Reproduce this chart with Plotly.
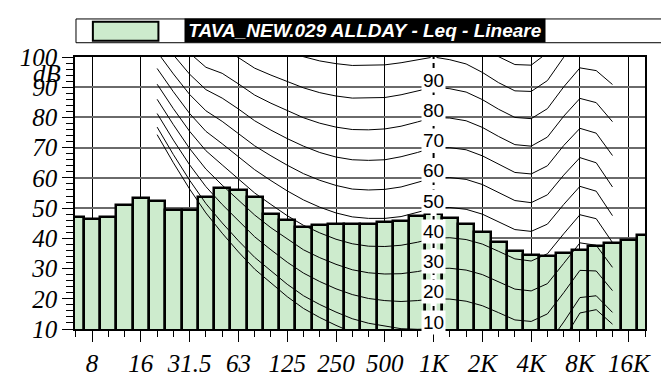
import plotly.graph_objects as go

# ---- data -------------------------------------------------------------
band_labels = ["6.3", "8", "10", "12.5", "16", "20", "25", "31.5", "40", "50", "63", "80",
               "100", "125", "160", "200", "250", "315", "400", "500", "630", "800",
               "1K", "1.25K", "1.6K", "2K", "2.5K", "3.15K", "4K", "5K", "6.3K", "8K",
               "10K", "12.5K", "16K", "20K"]
leq_values = [46.9, 46.5, 47.0, 50.9, 53.5, 52.2, 49.3, 49.4, 53.8, 56.8, 55.9, 53.8,
              48.0, 46.2, 43.6, 44.3, 44.7, 44.6, 44.7, 45.4, 45.8, 47.4,
              48.1, 46.8, 44.9, 42.1, 38.9, 35.8, 34.5, 34.3, 35.1, 36.2,
              37.5, 38.4, 39.5, 41.2]

octave_ticks = ["8", "16", "31.5", "63", "125", "250", "500", "1K", "2K", "4K", "8K", "16K"]
y_ticks = [10, 20, 30, 40, 50, 60, 70, 80, 90, 100]

# isophon curves, 20 Hz ... 12.5 kHz (third-octave bands)
iso_bands = band_labels[5:34]
maf = [74.3, 65.0, 56.3, 48.4, 41.7, 35.5, 29.8, 25.1, 20.7, 16.8, 13.8, 11.2, 8.9, 7.2, 6.0,
       5.0, 4.4, 4.2, 3.7, 2.6, 1.0, -1.2, -3.6, -3.9, -1.1, 6.6, 15.3, 16.4, 11.6]
phon10 = [76.8, 67.7, 59.2, 51.5, 45.1, 39.2, 33.7, 29.1, 24.8, 21.0, 18.1, 15.6, 13.4, 11.9, 10.9,
          10.1, 9.9, 10.0, 9.7, 8.7, 7.2, 5.0, 2.6, 2.2, 4.8, 12.3, 20.4, 21.0, 15.5]
phon20 = [81.3, 72.5, 64.3, 57.1, 51.2, 45.8, 40.5, 36.2, 32.1, 28.5, 25.7, 23.3, 21.4, 20.1, 19.4,
          19.1, 19.4, 20.0, 19.9, 19.2, 17.7, 15.4, 13.0, 12.5, 15.0, 22.0, 29.4, 29.2, 22.7]
phon30 = [86.0, 77.6, 69.7, 62.9, 57.6, 52.6, 47.7, 43.5, 39.7, 36.2, 33.6, 31.4, 29.6, 28.6, 28.2,
          28.3, 29.0, 30.0, 30.1, 29.5, 28.0, 25.7, 23.2, 22.6, 25.0, 31.7, 38.5, 37.7, 30.4]
phon40 = [91.0, 82.9, 75.4, 69.0, 64.3, 59.7, 55.0, 51.2, 47.5, 44.3, 41.8, 39.7, 38.2, 37.4, 37.3,
          37.7, 38.7, 40.0, 40.2, 39.6, 38.1, 35.7, 33.2, 32.5, 34.9, 41.5, 47.8, 46.5, 38.6]
phon50 = [96.2, 88.5, 81.3, 75.4, 71.3, 67.1, 62.7, 59.1, 55.7, 52.7, 50.3, 48.4, 47.1, 46.6, 46.6,
          47.2, 48.5, 50.0, 50.2, 49.6, 48.0, 45.5, 42.9, 42.3, 44.7, 51.2, 57.2, 55.6, 47.5]
phon60 = [101.7, 94.4, 87.6, 82.2, 78.7, 74.8, 70.6, 67.3, 64.2, 61.4, 59.2, 57.5, 56.3, 56.0, 56.2,
          57.0, 58.4, 60.0, 60.1, 59.5, 57.8, 55.1, 52.5, 51.8, 54.4, 60.9, 66.7, 65.0, 57.0]
phon70 = [107.6, 100.7, 94.3, 89.2, 86.4, 82.8, 78.9, 75.8, 73.0, 70.5, 68.4, 66.9, 66.0, 65.8, 66.0,
          67.0, 68.4, 70.0, 70.0, 69.3, 67.3, 64.5, 61.8, 61.3, 64.0, 70.7, 76.4, 74.8, 67.4]
phon80 = [113.7, 107.3, 101.3, 96.6, 94.6, 91.1, 87.4, 84.7, 82.2, 79.9, 78.1, 76.8, 76.0, 75.9, 76.2,
          77.1, 78.5, 80.0, 79.8, 78.9, 76.7, 73.7, 71.0, 70.5, 73.5, 80.4, 86.3, 84.9, 78.6]
phon90 = [120.3, 114.4, 108.7, 104.4, 103.2, 99.8, 96.3, 94.0, 91.8, 89.8, 88.2, 87.1, 86.4, 86.4, 86.6,
          87.5, 88.7, 90.0, 89.5, 88.4, 85.9, 82.7, 80.0, 79.6, 82.9, 90.1, 96.4, 95.5, 90.9]
phon100 = [127.2, 121.9, 116.6, 112.6, 112.3, 108.9, 105.6, 103.6, 101.8, 100.1, 98.7, 97.8, 97.2, 97.3, 97.4,
           98.1, 99.1, 100.0, 99.1, 97.7, 94.9, 91.5, 88.8, 88.6, 92.2, 99.9, 106.6, 106.5, 104.3]
phon110 = [134.6, 129.8, 125.0, 121.3, 121.9, 118.4, 115.3, 113.7, 112.3, 110.9, 109.7, 109.0, 108.6, 108.6, 108.6,
           109.0, 109.5, 110.0, 108.6, 107.0, 103.8, 100.1, 97.5, 97.3, 101.4, 109.6, 117.0, 117.9, 119.0]
curve_labels = [10, 20, 30, 40, 50, 60, 70, 80, 90]

legend_text = "TAVA_NEW.029 ALLDAY - Leq - Lineare"

# ---- geometry helpers (pixels -> paper) -------------------------------
W, H = 669, 381
L, R, T, B = 63, 637, 49, 335


def px(x):
    return (x - L) / (R - L)


def py(y):
    return (B - y) / (B - T)


band_x = list(range(len(band_labels)))
iso_x = [band_labels.index(b) for b in iso_bands]
tick_x = [band_labels.index(t) for t in octave_ticks]
khz_x = band_labels.index("1K")

SERIF = "Liberation Serif, Times New Roman, DejaVu Serif, serif"
serif = dict(family=SERIF, size=25, color="black", style="italic")

fig = go.Figure()
fig.add_trace(go.Bar(
    x=band_x, y=leq_values, width=1.0,
    marker=dict(color="#cdebcd", line=dict(color="black", width=2.5)),
    showlegend=False, hoverinfo="skip"))

for curve in [maf, phon10, phon20, phon30, phon40, phon50, phon60, phon70, phon80,
              phon90, phon100, phon110]:
    fig.add_trace(go.Scatter(x=iso_x, y=curve, mode="lines",
                             line=dict(color="black", width=1),
                             showlegend=False, hoverinfo="skip"))

fig.update_xaxes(
    range=[-0.05, 35.0], showline=True, mirror=True, linecolor="black", linewidth=1.5,
    tickmode="array", tickvals=tick_x, ticktext=["<i>%s</i>" % t for t in octave_ticks],
    tickfont=serif,
    ticks="outside", ticklen=11, tickwidth=1, tickcolor="black",
    showgrid=True, gridcolor="black", gridwidth=1.2, zeroline=False,
    minor=dict(tickmode="linear", tick0=0, dtick=1, ticks="outside", ticklen=6,
               tickcolor="black", showgrid=False))
fig.update_yaxes(
    range=[10, 100], showline=True, mirror=True, linecolor="black", linewidth=1.5,
    tickmode="array", tickvals=y_ticks, ticktext=["<i>%d</i>" % v for v in y_ticks],
    tickfont=serif,
    ticks="outside", ticklen=11, tickwidth=1, tickcolor="black",
    showgrid=True, gridcolor="#6a6a6a", gridwidth=2, zeroline=False,
    minor=dict(tickmode="linear", tick0=0, dtick=2, ticks="outside", ticklen=7,
               tickcolor="black", showgrid=False))

shapes = [
    # white casing + dashed line at 1 kHz
    dict(type="line", xref="x", yref="y", x0=khz_x, x1=khz_x, y0=10, y1=100,
         line=dict(color="white", width=6), layer="above"),
    dict(type="line", xref="x", yref="y", x0=khz_x, x1=khz_x, y0=10, y1=100,
         line=dict(color="black", width=2, dash="5px,4px"), layer="above"),
    # legend frame and swatch
    dict(type="rect", xref="paper", yref="paper", x0=px(64), x1=px(656), y0=py(34), y1=py(9),
         line=dict(color="black", width=1), fillcolor="white"),
    dict(type="rect", xref="paper", yref="paper", x0=px(81), x1=px(147), y0=py(32), y1=py(12),
         line=dict(color="black", width=2), fillcolor="#cdebcd"),
]

annotations = [
    dict(x=px(355.5), y=py(21), xref="paper", yref="paper",
         text="<b><i>%s</i></b>" % legend_text,
         showarrow=False, xanchor="center", yanchor="middle", bgcolor="black",
         width=360, height=23, borderpad=0,
         font=dict(family="Liberation Sans, Arial, sans-serif", size=19, color="white")),
    dict(x=px(35), y=py(66), xref="paper", yref="paper", text="<i>dB</i>", showarrow=False,
         xanchor="center", yanchor="middle", font=serif),
]
for v in curve_labels:
    annotations.append(dict(x=khz_x, y=v + 2.3, xref="x", yref="y", text=str(v),
                            showarrow=False, xanchor="center", yanchor="middle",
                            bgcolor="white", borderpad=1,
                            font=dict(family="Liberation Sans, Arial, sans-serif", size=19,
                                      color="black")))

fig.update_layout(
    width=W, height=H, margin=dict(l=L, r=W - R, t=T, b=H - B),
    plot_bgcolor="white", paper_bgcolor="white", bargap=0,
    shapes=shapes, annotations=annotations, showlegend=False)

fig.write_html("out.html")
